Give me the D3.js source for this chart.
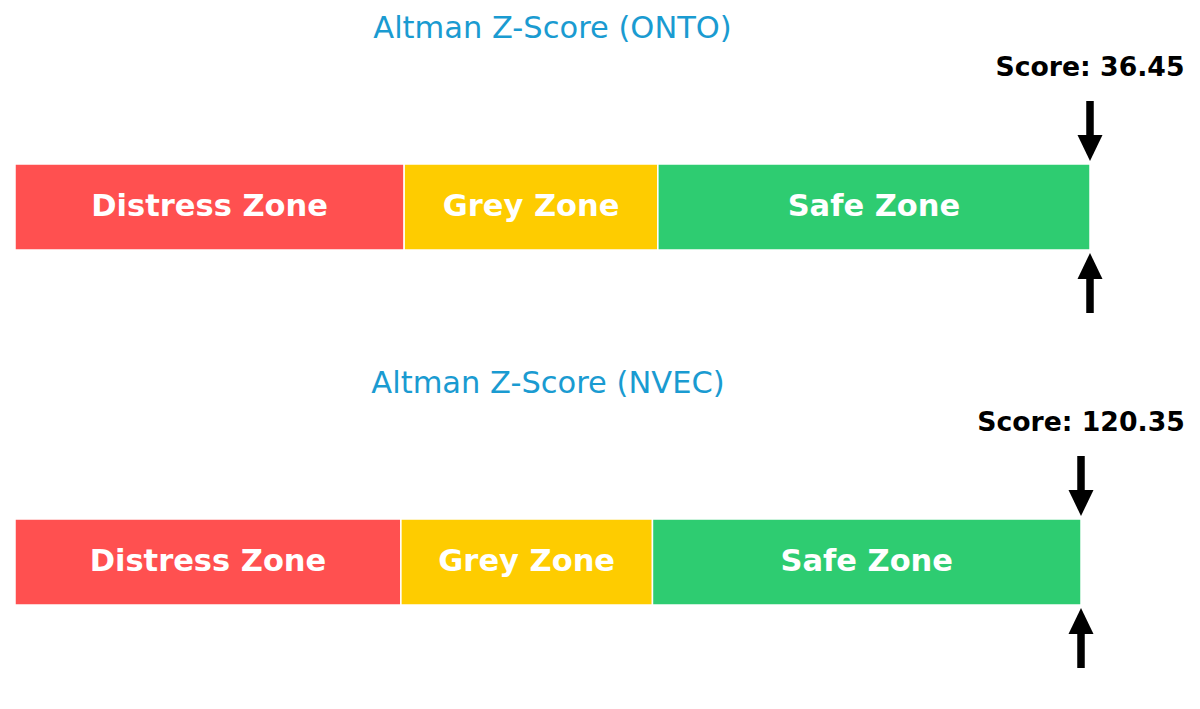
<!DOCTYPE html>
<html>
<head>
<meta charset="utf-8">
<script src="https://cdn.jsdelivr.net/npm/d3@7"></script>
<style>
  html, body { margin: 0; padding: 0; background: #ffffff; }
  svg { display: block; font-family: "DejaVu Sans", sans-serif; }
</style>
</head>
<body>
<svg id="chart" width="1200" height="709"></svg>
<script>
// ---- data ----
const companies = ["ONTO", "NVEC"];
const scores = [36.45, 120.35];
const zoneNames = ["Distress Zone", "Grey Zone", "Safe Zone"];
const zoneStarts = [0, 1.81, 2.99];
const zoneEnds = [1.81, 2.99, 5];
const axisMax = 5;

// ---- styles / layout ----
const zoneColors = ["#ff5050", "#fecc00", "#2ecc71"];
const panelOffset = [0, 355];
const panelRight = [1090, 1081];
const left = 15;
const barTop = 164, barH = 86;

const svg = d3.select("#chart");

companies.forEach((name, i) => {
  const g = svg.append("g").attr("transform", `translate(0,${panelOffset[i]})`);
  const x = d3.scaleLinear().domain([0, axisMax]).range([left, panelRight[i]]);

  const zones = zoneNames.map((z, k) => ({ name: z, start: zoneStarts[k], end: zoneEnds[k], color: zoneColors[k] }));

  g.selectAll("rect.zone").data(zones).enter().append("rect")
    .attr("class", "zone")
    .attr("x", d => x(d.start))
    .attr("y", barTop)
    .attr("width", d => x(d.end) - x(d.start))
    .attr("height", barH)
    .attr("fill", d => d.color)
    .attr("stroke", "#ffffff")
    .attr("stroke-width", 1.5);

  g.selectAll("text.zlabel").data(zones).enter().append("text")
    .attr("class", "zlabel")
    .attr("x", d => x((d.start + d.end) / 2))
    .attr("y", barTop + 52)
    .attr("text-anchor", "middle")
    .attr("fill", "#ffffff")
    .attr("font-weight", "bold")
    .attr("font-size", "30.5px")
    .text(d => d.name);

  // title
  g.append("text")
    .attr("x", (x.range()[0] + x.range()[1]) / 2)
    .attr("y", 38)
    .attr("text-anchor", "middle")
    .attr("fill", "#1a9bd1")
    .attr("font-size", "30.5px")
    .text(`Altman Z-Score (${name})`);

  const sx = x(Math.min(scores[i], axisMax));

  // score label
  g.append("text")
    .attr("x", sx)
    .attr("y", 76)
    .attr("text-anchor", "middle")
    .attr("fill", "#000000")
    .attr("font-weight", "bold")
    .attr("font-size", "26.7px")
    .text(`Score: ${scores[i].toFixed(2)}`);

  // down arrow (above bar)
  const tipTop = barTop - 3;
  g.append("rect").attr("x", sx - 3.75).attr("y", tipTop - 60).attr("width", 7.5).attr("height", 34).attr("fill", "#000");
  g.append("path")
    .attr("d", d3.line()([[sx - 12.5, tipTop - 26], [sx + 12.5, tipTop - 26], [sx, tipTop]]) + "Z")
    .attr("fill", "#000");

  // up arrow (below bar)
  const tipBot = barTop + barH + 3;
  g.append("rect").attr("x", sx - 3.75).attr("y", tipBot + 25).attr("width", 7.5).attr("height", 35).attr("fill", "#000");
  g.append("path")
    .attr("d", d3.line()([[sx - 12.5, tipBot + 26], [sx + 12.5, tipBot + 26], [sx, tipBot]]) + "Z")
    .attr("fill", "#000");
});
</script>
</body>
</html>
